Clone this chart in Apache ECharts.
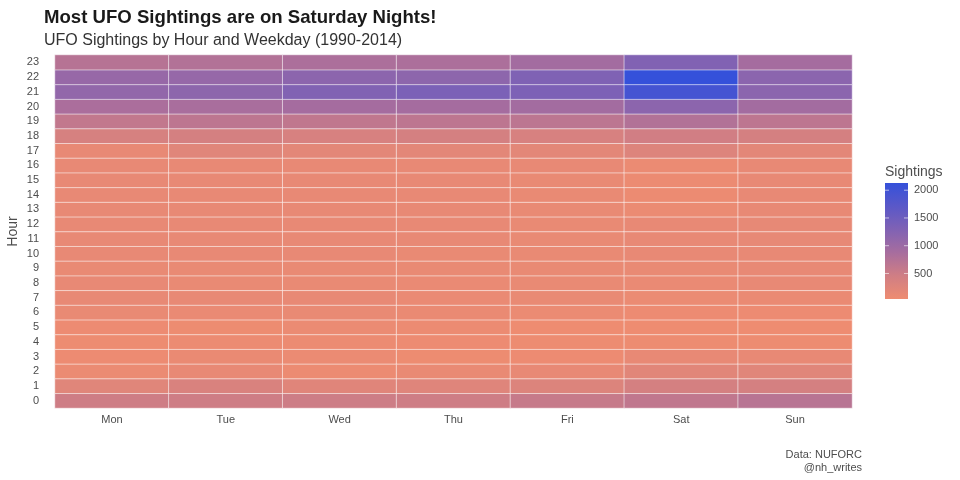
<!DOCTYPE html>
<html lang="en">
<head>
    <meta charset="UTF-8">
    <title>UFO Sightings</title>
    <style>
        html,body{margin:0;padding:0;background:#fff;}
        #mychart{width:960px;height:480px;}
    </style>
</head>
<body>
    <div id="mychart"></div>
    <script src="https://cdn.jsdelivr.net/npm/echarts@6/dist/echarts.min.js"></script>
    <script>
        var days=['Mon','Tue','Wed','Thu','Fri','Sat','Sun']
        var hours=['0','1','2','3','4','5','6','7','8','9','10','11','12','13','14','15','16','17','18','19','20','21','22','23']
        // sightings per hour (0..23) for each weekday
        var mon=[480,230,80,60,50,60,110,130,120,110,120,120,120,120,120,120,120,130,380,600,840,1100,1050,720]
        var tue=[480,330,130,90,70,50,100,120,110,110,120,120,120,120,120,120,120,230,400,650,860,1150,1060,760]
        var wed=[490,240,70,80,70,80,110,120,110,110,120,120,120,120,120,120,130,190,360,620,900,1280,1170,820]
        var thu=[480,250,110,50,60,70,90,100,100,110,110,120,120,120,120,120,120,200,400,650,900,1350,1150,820]
        var fri=[560,290,120,60,50,40,80,110,110,110,110,110,110,110,110,110,120,200,360,660,920,1330,1300,920]
        var sat=[620,400,220,130,50,40,60,80,100,110,120,120,120,80,70,70,80,280,450,760,1170,1950,2130,1280]
        var sun=[700,400,230,130,50,40,60,90,130,120,130,140,140,130,130,120,120,190,400,650,920,1180,1180,900]
        var legendBreaks=[500,1000,1500,2000]
        var scaleColors=['#EE8C71','#D07E84','#A76D9E','#8062B4','#5A58C8','#3551DA']

        var byDay=[mon,tue,wed,thu,fri,sat,sun]
        var data=[]
        var vmin=Infinity,vmax=-Infinity
        byDay.forEach(function(arr,d){
            arr.forEach(function(v,h){
                data.push([d,h,v])
                if(v<vmin)vmin=v
                if(v>vmax)vmax=v
            })
        })

        var font='"Liberation Sans", Arial, Helvetica, sans-serif'
        var txt='#4D4D4D'

        // legend bar
        var lgX=885,lgY=183,lgW=23,lgH=116
        var stops=scaleColors.map(function(c,i){return {offset:i/(scaleColors.length-1),color:c}})
        var graphics=[
            {type:'text',left:lgX,top:165,style:{text:'Sightings',font:'14px '+font,fill:txt}},
            {type:'rect',shape:{x:lgX,y:lgY,width:lgW,height:lgH},
             style:{fill:{type:'linear',x:0,y:1,x2:0,y2:0,colorStops:stops}}}
        ]
        legendBreaks.forEach(function(b){
            var y=lgY+lgH-(b-vmin)/(vmax-vmin)*lgH
            graphics.push({type:'line',shape:{x1:lgX,y1:y,x2:lgX+4,y2:y},style:{stroke:'rgba(255,255,255,0.6)',lineWidth:1}})
            graphics.push({type:'line',shape:{x1:lgX+lgW-4,y1:y,x2:lgX+lgW,y2:y},style:{stroke:'rgba(255,255,255,0.6)',lineWidth:1}})
            graphics.push({type:'text',x:lgX+lgW+6,y:y,style:{text:String(b),font:'11px '+font,fill:txt,verticalAlign:'middle'}})
        })
        graphics.push({type:'text',x:862,y:448,style:{text:'Data: NUFORC\n@nh_writes',font:'11px '+font,fill:txt,align:'right',lineHeight:13}})

        var myChart=echarts.init(document.getElementById('mychart'))
        var option={
            animation:false,
            backgroundColor:'#fff',
            title:{
                text:'Most UFO Sightings are on Saturday Nights!',
                subtext:'UFO Sightings by Hour and Weekday (1990-2014)',
                left:39,top:3,itemGap:6,
                textStyle:{fontFamily:font,fontSize:18.6,fontWeight:'bold',color:'#1a1a1a'},
                subtextStyle:{fontFamily:font,fontSize:16,color:'#333'}
            },
            grid:{left:55,right:108,top:55,bottom:72,outerBoundsMode:'none'},
            xAxis:{
                type:'category',data:days,
                axisLine:{show:false},axisTick:{show:false},
                splitLine:{show:false},
                axisLabel:{fontFamily:font,fontSize:11,color:txt,margin:6}
            },
            yAxis:{
                type:'category',data:hours,
                name:'Hour',nameLocation:'middle',nameGap:35,nameRotate:90,
                nameMoveOverlap:false,
                nameTextStyle:{fontFamily:font,fontSize:14,color:txt},
                axisLine:{show:false},axisTick:{show:false},
                splitLine:{show:false},
                axisLabel:{fontFamily:font,fontSize:11,color:txt,margin:16,interval:0}
            },
            visualMap:{
                show:false,type:'continuous',dimension:2,
                min:vmin,max:vmax,
                inRange:{color:scaleColors}
            },
            series:[{
                type:'heatmap',
                data:data,
                itemStyle:{borderColor:'rgba(255,255,255,0.55)',borderWidth:1},
                emphasis:{disabled:true}
            }],
            graphic:graphics
        }
        myChart.setOption(option)
    </script>
</body>
</html>
